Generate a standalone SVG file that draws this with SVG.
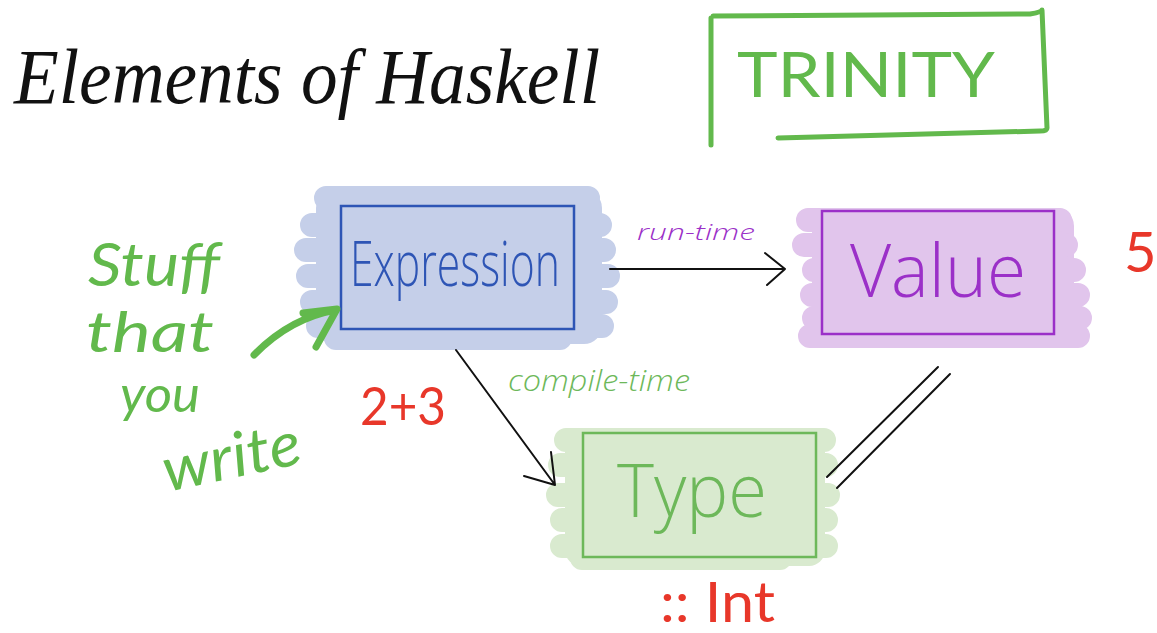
<svg xmlns="http://www.w3.org/2000/svg" width="1157" height="633" viewBox="0 0 1157 633">
<defs>
<style>
.title{font-family:"Liberation Serif",serif;font-style:italic;font-size:78px;fill:#111}
.hand{font-family:"Open Sans","Liberation Sans",sans-serif;font-weight:300}
.marker{font-family:"Lato","Liberation Sans",sans-serif;font-weight:normal}
.conn{stroke:#111;stroke-width:2;fill:none;stroke-linecap:round;stroke-linejoin:round}
.blobE{fill:#C5CFE9;stroke:#C5CFE9}
.blobV{fill:#E1C5EC;stroke:#E1C5EC}
.blobT{fill:#D9EACF;stroke:#D9EACF}
.scr{stroke-width:24;stroke-linecap:round;fill:none}
.red{fill:#E8372A}
.green{fill:#62B94C}
</style>
</defs>
<rect width="1157" height="633" fill="#fff"/>

<g id="title">
<text class="title" x="14" y="103" textLength="586" lengthAdjust="spacingAndGlyphs">Elements of Haskell</text>
</g>

<g id="trinity">
<path d="M711,18 L711,145 M713,16 L1030,14 Q1042,12 1042,10 L1047,128 Q1047,131 1040,131 L778,138" fill="none" stroke="#62B94C" stroke-width="5" stroke-linecap="round" stroke-linejoin="round"/>
<text class="marker green" x="737" y="97" font-size="62" textLength="258" lengthAdjust="spacingAndGlyphs">TRINITY</text>
</g>

<g id="expression">
<g class="blobE">
<rect x="316" y="190" width="286" height="154" rx="18" stroke="none"/>
<path class="scr" d="M326,198H588M312,225H600M306,250H604M308,276H608M312,302H606M318,326H602M336,338H560"/>
</g>
<rect x="341" y="206" width="233" height="123" fill="none" stroke="#2E55B5" stroke-width="2.5"/>
<text class="hand" transform="translate(350,286) scale(0.7,1)" x="0" y="0" font-size="62" fill="#2E55B5" textLength="300" lengthAdjust="spacingAndGlyphs">Expression</text>
</g>

<g id="value">
<g class="blobV">
<rect x="812" y="208" width="262" height="138" rx="18" stroke="none"/>
<path class="scr" d="M808,220H1060M804,245H1066M814,270H1074M812,295H1078M814,318H1080M810,336H1078"/>
</g>
<rect x="822" y="211" width="232" height="123" fill="none" stroke="#9B30C8" stroke-width="2.5"/>
<text class="hand" x="850" y="297" font-size="74" fill="#9B30C8" textLength="176" lengthAdjust="spacingAndGlyphs">Value</text>
</g>

<g id="type">
<g class="blobT">
<rect x="565" y="430" width="260" height="136" rx="16" stroke="none"/>
<path class="scr" d="M566,440H824M560,465H826M558,495H828M562,520H826M562,546H826M582,558H780"/>
</g>
<rect x="583" y="433" width="233" height="124" fill="none" stroke="#6DB85A" stroke-width="2.5"/>
<text class="hand" x="617" y="517" font-size="74" fill="#6DB85A" textLength="150" lengthAdjust="spacingAndGlyphs">Type</text>
</g>

<g id="connectors">
<path class="conn" d="M610,269H785M765,253L785,269L767,285"/>
<path class="conn" d="M456,350L555,485M524,476L555,485L551,452"/>
<path class="conn" d="M827,477L938,367M837,488L950,374"/>
<path d="M254,355Q290,318 336,310M303,313L337,309L316,347" fill="none" stroke="#62B94C" stroke-width="7" stroke-linecap="round" stroke-linejoin="round"/>
</g>

<g id="labels">
<text class="hand" x="637" y="240" font-size="22" font-style="italic" fill="#9B30C8" textLength="118" lengthAdjust="spacingAndGlyphs">run-time</text>
<text class="hand" x="508" y="391" font-size="30" font-style="italic" fill="#6DB85A" textLength="182" lengthAdjust="spacingAndGlyphs">compile-time</text>
</g>

<g id="annotations">
<text class="marker green" x="88" y="286" font-size="60" font-style="italic" font-weight="bold" textLength="132" lengthAdjust="spacingAndGlyphs">Stuff</text>
<text class="marker green" x="86" y="352" font-size="56" font-style="italic" font-weight="bold" textLength="128" lengthAdjust="spacingAndGlyphs">that</text>
<text class="marker green" x="120" y="412" font-size="50" font-style="italic" font-weight="bold" textLength="80" lengthAdjust="spacingAndGlyphs">you</text>
<text class="marker green" x="160" y="478" font-size="62" font-style="italic" font-weight="bold" textLength="140" lengthAdjust="spacingAndGlyphs" transform="rotate(-12 230 450)">write</text>
<text class="marker red" x="360" y="425" font-size="52" textLength="86" lengthAdjust="spacingAndGlyphs">2+3</text>
<text class="marker red" x="1124" y="272" font-size="56">5</text>
<text class="marker red" x="660" y="622" font-size="56" textLength="115" lengthAdjust="spacingAndGlyphs">:: Int</text>
</g>
</svg>
